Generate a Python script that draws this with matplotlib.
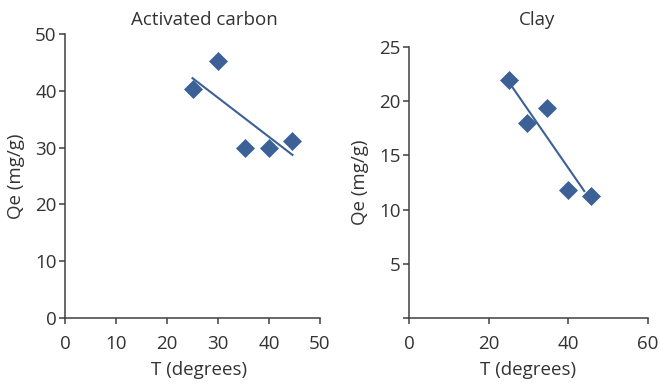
import matplotlib
matplotlib.use("Agg")
import matplotlib.pyplot as plt
import numpy as np

plt.rcParams['font.family'] = ['Open Sans', 'DejaVu Sans']

# Activated carbon
t_ac = [25, 30, 35.2, 40, 44.6]
qe_ac = [40.3, 45.3, 30.0, 30.0, 31.2]

# Clay
t_clay = [25, 29.5, 34.7, 40, 45.7]
qe_clay = [22.0, 18.0, 19.4, 11.8, 11.3]
clay_trend_end = 44

blue = '#3b6196'
grey = '#404040'
txt = '#333333'
fs = 13.5

fig = plt.figure(figsize=(6.6, 3.84), dpi=100)
ax1 = fig.add_axes([65/660, 66/384, 255/660, 284/384])
ax2 = fig.add_axes([409/660, 66/384, 239/660, 271/384])


def style(ax):
    for s in ['top', 'right']:
        ax.spines[s].set_visible(False)
    for s in ['left', 'bottom']:
        ax.spines[s].set_color(grey)
        ax.spines[s].set_linewidth(1.1)
    ax.tick_params(direction='out', length=4, width=1.1, color=grey,
                   labelcolor=txt, labelsize=fs, pad=2)
    ax.tick_params(axis='x', pad=8.5)
    ax.set_xlabel('T (degrees)', fontsize=fs, color=txt, labelpad=5.5)
    ax.set_ylabel('Qe (mg/g)', fontsize=fs, color=txt, labelpad=7)


# left
ax1.plot(t_ac, qe_ac, 'D', color=blue, ms=8.8, mec=blue, mew=0.5)
k, b = np.polyfit(t_ac, qe_ac, 1)
xs = np.array([min(t_ac), max(t_ac)])
ax1.plot(xs, k * xs + b, color=blue, lw=1.5)
ax1.set_xlim(0, 50)
ax1.set_ylim(0, 50)
ax1.set_xticks(range(0, 51, 10))
ax1.set_yticks(range(0, 51, 10))
style(ax1)
ax1.xaxis.label.set_x(0.525)
fig.text(204/660, 1 - 20/384, 'Activated carbon', ha='center', va='center',
         fontsize=fs, color=txt)

# right
ax2.plot(t_clay, qe_clay, 'D', color=blue, ms=8.8, mec=blue, mew=0.5)
k, b = np.polyfit(t_clay, qe_clay, 1)
xs = np.array([min(t_clay), clay_trend_end])
ax2.plot(xs, k * xs + b, color=blue, lw=1.5)
ax2.set_xlim(0, 60)
ax2.set_ylim(0, 25)
ax2.set_xticks(range(0, 61, 20))
ax2.set_yticks(range(0, 26, 5))
ax2.set_yticklabels(['', '5', '10', '15', '20', '25'])
style(ax2)
fig.text(537/660, 1 - 20/384, 'Clay', ha='center', va='center',
         fontsize=fs, color=txt)

fig.savefig('out.png', dpi=100)
